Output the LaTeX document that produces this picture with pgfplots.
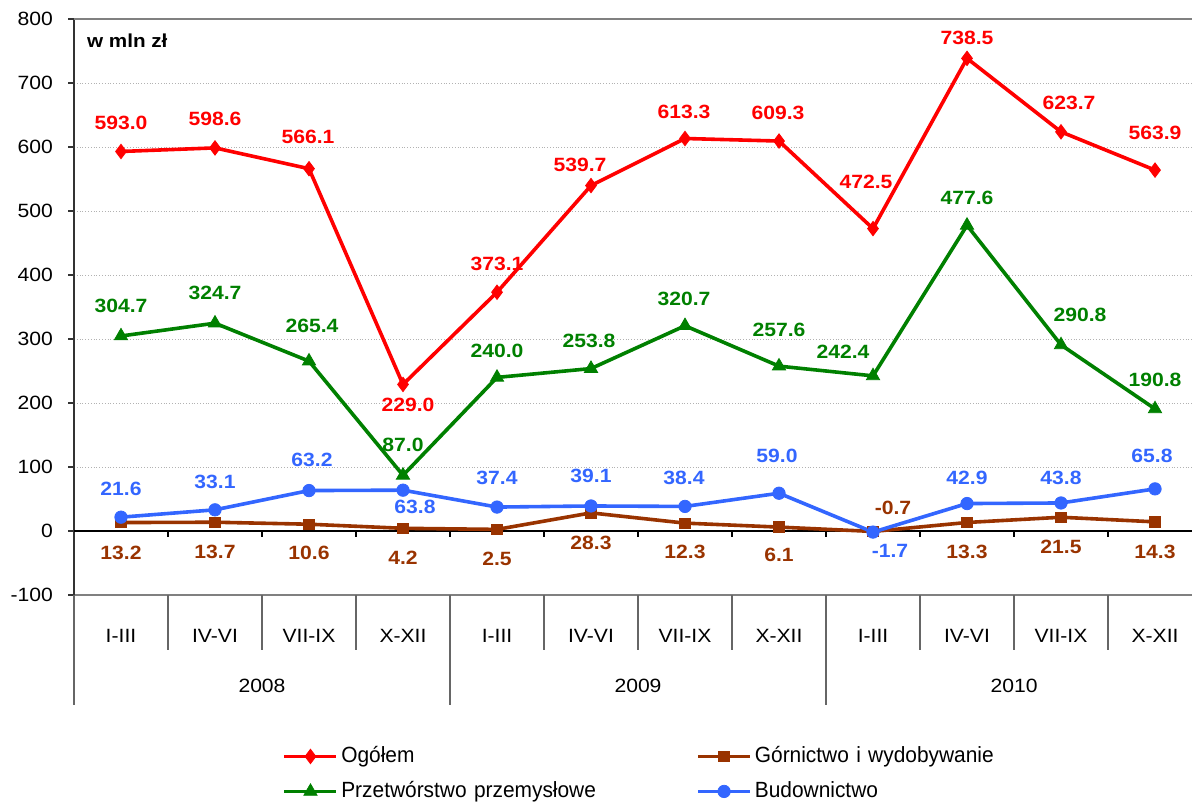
\documentclass[border=0pt]{standalone}
\usepackage{fontspec}
\setmainfont{Liberation Sans}
\newfontfamily\lab{Liberation Sans}[FakeStretch=1.1]
\newfontfamily\leg{Liberation Sans}[FakeStretch=0.95]
\usepackage{pgfplots}
\usepackage{pgfplotstable}
\pgfplotsset{compat=1.18}
\definecolor{cRed}{RGB}{255,0,0}
\definecolor{cGreen}{RGB}{0,128,0}
\definecolor{cBlue}{RGB}{51,102,255}
\definecolor{cBrown}{RGB}{153,51,0}

\pgfplotstableread{
x y dx dy
0 593.0 0 29
1 598.6 0 29
2 566.1 -1 32
3 229.0 5 -20
4 373.1 0 28
5 539.7 -11 21
6 613.3 -1 27
7 609.3 -1 28
8 472.5 -7 47
9 738.5 0 20
10 623.7 8 29
11 563.9 0 37
}\ogolem

\pgfplotstableread{
x y dx dy
0 13.2 0 -30
1 13.7 0 -30
2 10.6 0 -29
3 4.2 0 -29
4 2.5 0 -29
5 28.3 0 -30
6 12.3 0 -29
7 6.1 0 -28
8 -0.7 20 24
9 13.3 0 -29
10 21.5 0 -30
11 14.3 0 -30
}\gornictwo

\pgfplotstableread{
x y dx dy
0 304.7 0 30
1 324.7 0 30
2 265.4 3 35
3 87.0 0 30
4 240.0 0 27
5 253.8 -2 28
6 320.7 -1 27
7 257.6 0 36
8 242.4 -30 24
9 477.6 0 27
10 290.8 19 30
11 190.8 0 29
}\przetworstwo

\pgfplotstableread{
x y dx dy
0 21.6 0 28
1 33.1 0 28
2 63.2 3 31
3 63.8 12 -17
4 37.4 0 29
5 39.1 0 30
6 38.4 -1 29
7 59.0 -2 37
8 -1.7 17 -19
9 42.9 0 26
10 43.8 0 25
11 65.8 -3 33
}\budownictwo

\pgfplotsset{
  lbl/.style={
    nodes near coords={\pgfmathprintnumber[fixed,fixed zerofill,precision=1]{\pgfplotspointmeta}},
    point meta=explicit,
    visualization depends on={\thisrow{dx}\as\dx},
    visualization depends on={\thisrow{dy}\as\dy},
    every node near coord/.append style={anchor=center, xshift=\dx*0.5pt, yshift=\dy*0.5pt,
      text=#1, font=\fontsize{9.6}{11}\lab\bfseries, inner sep=0pt},
  },
}

\begin{document}
\begin{tikzpicture}
\useasboundingbox (0,0) rectangle (596pt,401pt);
\begin{axis}[
  at={(37pt,103.5pt)}, anchor=south west,
  scale only axis, width=564pt, height=288pt,
  xmin=-0.5, xmax=11.5, ymin=-100, ymax=800,
  ytick={-100,0,...,800},
  xtick={0,...,11},
  xticklabels={I-III,IV-VI,VII-IX,X-XII,I-III,IV-VI,VII-IX,X-XII,I-III,IV-VI,VII-IX,X-XII},
  x tick label style={anchor=center, yshift=-17.5pt, font=\fontsize{9.6}{11}\lab},
  y tick label style={font=\fontsize{9.6}{11}\lab, xshift=-4pt},
  /pgf/number format/assume math mode=true,
  axis x line*=bottom, axis y line*=left,
  x axis line style={-, gray, line width=0.6pt},
  y axis line style={-, black!80, line width=0.8pt},
  xtick style={draw=none},
  ytick style={black!80, line width=0.6pt},
  tick align=outside, major tick length=3pt,
  ymajorgrids, major grid style={gray!60, densely dotted, line width=0.5pt},
  clip=false,
  legend columns=2,
  legend cell align=left,
  legend style={draw=none, fill=none, inner sep=0pt, outer sep=0pt,
    at={(axis description cs:0.185,-0.256)}, anchor=north west,
    font=\fontsize{11}{13}\leg, row sep=3.5pt,
    nodes={inner sep=1.5pt, text width=176pt, text height=8.5pt, text depth=2.5pt}},
  legend image code/.code={
    \draw[mark repeat=2,mark phase=2,#1] plot coordinates {(0pt,0pt) (13pt,0pt) (26pt,0pt)};
  },
]
% zero line and ticks
\draw[black, line width=0.7pt] (axis cs:-0.5,0) -- (axis cs:11.5,0);
\pgfplotsinvokeforeach{0.5,1.5,...,10.5}{
  \draw[black, line width=0.6pt] (axis cs:#1,0) -- ++(0pt,-3pt);
}
% top border
\draw[gray, line width=0.6pt] (axis cs:-0.5,800) -- (axis cs:11.5,800);
% separators
\pgfplotsinvokeforeach{0.5,1.5,2.5,4.5,5.5,6.5,8.5,9.5,10.5}{
  \draw[black!60, line width=0.6pt] (axis cs:#1,-100) -- ++(0pt,-27.5pt);
}
\pgfplotsinvokeforeach{-0.5,3.5,7.5}{
  \draw[black!60, line width=0.6pt] (axis cs:#1,-100) -- ++(0pt,-55pt);
}
\node[font=\fontsize{9.6}{11}\lab] at (axis cs:1.5,-100) [yshift=-45.5pt] {2008};
\node[font=\fontsize{9.6}{11}\lab] at (axis cs:5.5,-100) [yshift=-45.5pt] {2009};
\node[font=\fontsize{9.6}{11}\lab] at (axis cs:9.5,-100) [yshift=-45.5pt] {2010};
\node[anchor=west, font=\fontsize{9.4}{11}\lab\bfseries] at (rel axis cs:0,1) [xshift=3pt, yshift=-11pt] {w mln zł};

\addplot[cRed, line width=1.8pt, mark=diamond*, mark size=3.6pt, mark options={solid, line width=0.4pt}, lbl=cRed]
  table[x=x, y=y, meta=y] {\ogolem};
\addlegendentry{Ogółem}
\addplot[cBrown, line width=1.8pt, mark=square*, mark size=2.6pt, mark options={solid, line width=0.4pt}, lbl=cBrown]
  table[x=x, y=y, meta=y] {\gornictwo};
\addlegendentry{Górnictwo i wydobywanie}
\addplot[cGreen, line width=1.8pt, mark=triangle*, mark size=3.8pt, mark options={solid, line width=0.4pt}, lbl=cGreen]
  table[x=x, y=y, meta=y] {\przetworstwo};
\addlegendentry{Przetwórstwo przemysłowe}
\addplot[cBlue, line width=1.8pt, mark=*, mark size=3.1pt, mark options={solid, line width=0.4pt}, lbl=cBlue]
  table[x=x, y=y, meta=y] {\budownictwo};
\addlegendentry{Budownictwo}
\end{axis}
\end{tikzpicture}
\end{document}
